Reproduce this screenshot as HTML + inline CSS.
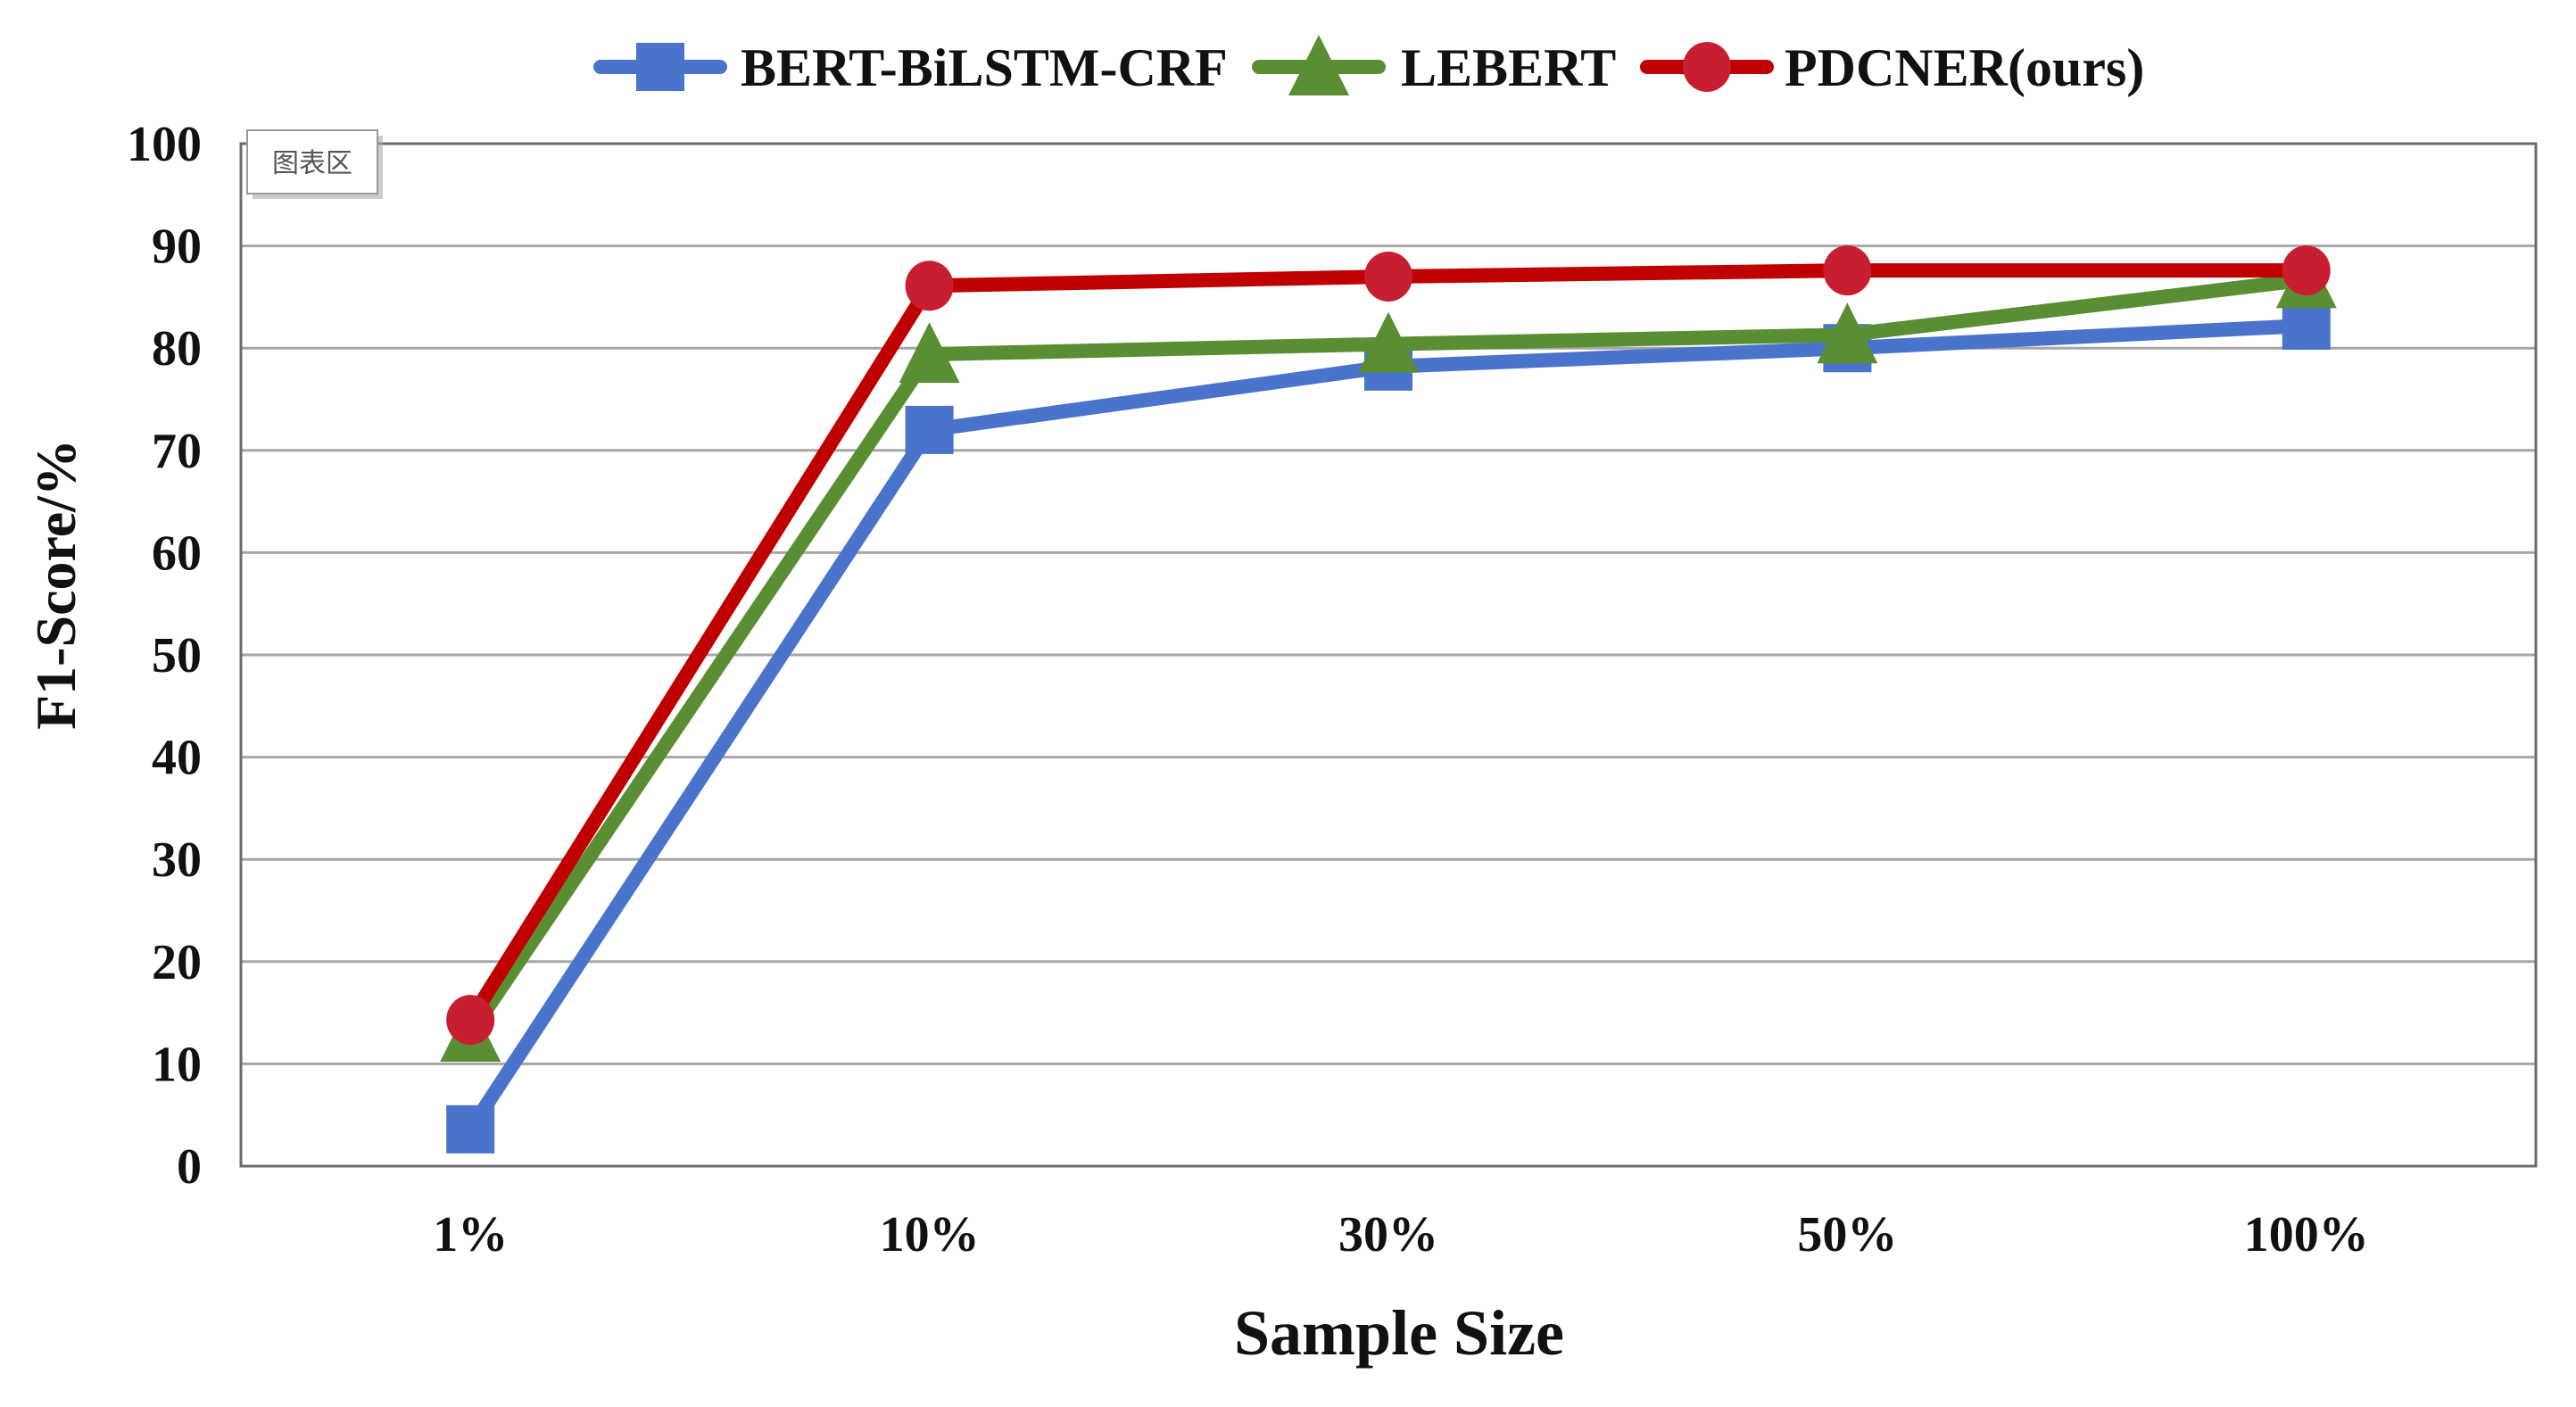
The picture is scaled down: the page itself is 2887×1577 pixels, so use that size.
<!DOCTYPE html>
<html><head><meta charset="utf-8"><style>
html,body{margin:0;padding:0;background:#fff;}
svg{display:block;}
text{font-family:"Liberation Serif",serif;font-weight:bold;fill:#111;}
</style></head><body>
<svg id="chart" width="2887" height="1577" viewBox="0 0 2887 1577" xmlns="http://www.w3.org/2000/svg">
<rect x="0" y="0" width="2887" height="1577" fill="#fff"/>
<g id="grid"></g>
<rect x="270" y="161" width="2572" height="1146" fill="none" stroke="#6b6b6b" stroke-width="3"/>
<g id="yticks"></g>
<g id="xticks"></g>
<g id="series"></g>
<text x="1568" y="1518" font-size="72" text-anchor="middle">Sample Size</text>
<text transform="translate(84,655) rotate(-90)" font-size="64" text-anchor="middle">F1-Score/%</text>
<g>
<rect x="283" y="152" width="146" height="71" fill="#aaa" opacity="0.6"/>
<rect x="277" y="146" width="146" height="71" fill="#fff" stroke="#999" stroke-width="2"/>
<text x="350" y="193" font-size="30" text-anchor="middle" style="font-family:'Noto Sans CJK SC',sans-serif;font-weight:normal;fill:#555">图表区</text>
</g>
<g id="legend"></g>
</svg>
<script>
const categories = ["1%","10%","30%","50%","100%"];
const yTicks = [0,10,20,30,40,50,60,70,80,90,100];
const seriesNames = ["BERT-BiLSTM-CRF","LEBERT","PDCNER(ours)"];
const bertValues = [3.6,72.0,78.2,80.0,82.2];
const lebertValues = [13.0,79.4,80.4,81.3,86.7];
const pdcnerValues = [14.3,86.1,87.0,87.6,87.6];

const NS="http://www.w3.org/2000/svg";
const L=270,R=2842,T=161,B=1307;
const xS=i=>L+(R-L)/categories.length*(i+0.5);
const yS=v=>B-(B-T)*v/100;
function mk(tag,attrs,parent){const e=document.createElementNS(NS,tag);for(const k in attrs)e.setAttribute(k,attrs[k]);parent.appendChild(e);return e;}
const grid=document.getElementById('grid'),yt=document.getElementById('yticks'),xt=document.getElementById('xticks'),sg=document.getElementById('series'),lg=document.getElementById('legend');
yTicks.forEach(v=>{
  if(v>0&&v<100){const g=mk('line',{x1:L,x2:R,y1:yS(v),y2:yS(v),stroke:'#a6a6a6','stroke-width':3},grid);
  
  }
  const t=mk('text',{x:226,y:yS(v)+19,'font-size':56,'text-anchor':'end'},yt);t.textContent=v;
  
  
});
categories.forEach((c,i)=>{
  const t=mk('text',{x:xS(i),y:1402,'font-size':56,'text-anchor':'middle'},xt);t.textContent=c;
  
  
});
const colors=[['#4a74cc','#4a74cc'],['#5a8e32','#5a8e32'],['#c00000','#c81e32']];
const shapes=['square','triangle','circle'];
function marker(shape,cx,cy,col,parent){
  let e;
  if(shape==='square')e=mk('rect',{x:cx-27,y:cy-27,width:54,height:54,fill:col},parent);
  else if(shape==='triangle')e=mk('polygon',{points:`${cx},${cy-36} ${cx-34},${cy+32} ${cx+34},${cy+32}`,fill:col},parent);
  else e=mk('ellipse',{cx:cx,cy:cy,rx:27,ry:28,fill:col},parent);
  return e;
}
[bertValues,lebertValues,pdcnerValues].forEach((vals,s)=>{
  const g=mk('g',{},sg);
  
  
  const pl=mk('polyline',{points:vals.map((v,i)=>xS(i)+','+yS(v)).join(' '),fill:'none',stroke:colors[s][0],'stroke-width':16,'stroke-linejoin':'round'},g);
  
  
  vals.forEach((v,i)=>{const m=marker(shapes[s],xS(i),yS(v),colors[s][1],g);
    
    });
});
const legX=[665,1403,1838],legTX=[830,1570,2000];
seriesNames.forEach((n,s)=>{
  const g=mk('g',{},lg);
  
  
  mk('line',{x1:legX[s]+8,x2:legX[s]+142,y1:75,y2:75,stroke:colors[s][0],'stroke-width':16,'stroke-linecap':'round'},g);
  marker(shapes[s],legX[s]+75,75,colors[s][1],g);
  const t=mk('text',{x:legTX[s],y:96,'font-size':60},g);t.textContent=n;
});
</script>
</body></html>
